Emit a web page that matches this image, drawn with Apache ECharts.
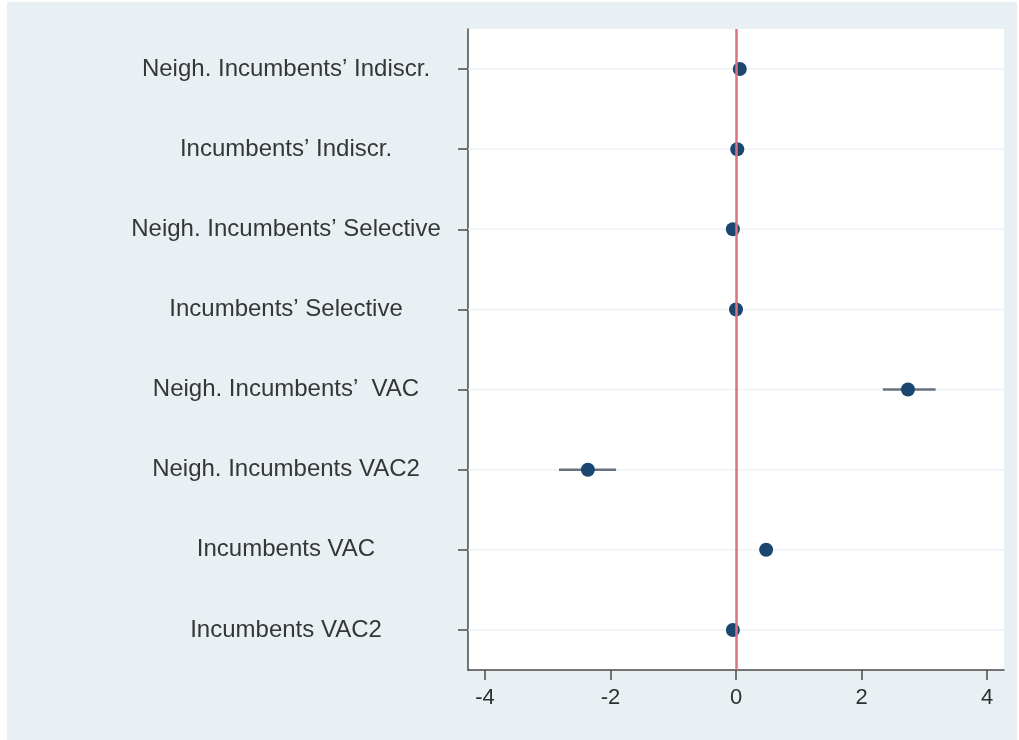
<!DOCTYPE html>
<html>
<head>
<meta charset="utf-8">
<script src="https://cdn.jsdelivr.net/npm/echarts@6/dist/echarts.min.js"></script>
<style>
  html, body { margin: 0; padding: 0; background: #ffffff; }
  #chart { width: 1019px; height: 740px; }
</style>
</head>
<body>
<div id="chart"></div>
<script>
// Coefficient estimates with confidence intervals, one row per regressor
const categories = [
  "Neigh. Incumbents’ Indiscr.",
  "Incumbents’ Indiscr.",
  "Neigh. Incumbents’ Selective",
  "Incumbents’ Selective",
  "Neigh. Incumbents’  VAC",
  "Neigh. Incumbents VAC2",
  "Incumbents VAC",
  "Incumbents VAC2"
];
const estimates = [0.06, 0.02, -0.05, 0.0, 2.74, -2.36, 0.48, -0.05];
const ciLow     = [0.02, -0.02, -0.09, -0.04, 2.34, -2.82, 0.44, -0.09];
const ciHigh    = [0.10, 0.06, -0.01, 0.04, 3.18, -1.91, 0.52, -0.01];
const xTicks    = [-4, -2, 0, 2, 4];

const chart = echarts.init(document.getElementById('chart'));

const pointData = estimates.map((v, i) => [v, i]);
const ciData = ciLow.map((lo, i) => [lo, ciHigh[i], i]);
const rowData = categories.map((c, i) => [i]);

const axisColor = '#4a4a4a';
const font = 'Liberation Sans, Arial, Helvetica, sans-serif';

chart.setOption({
  animation: false,
  backgroundColor: '#ffffff',
  graphic: [{
    type: 'rect',
    z: -10,
    shape: { x: 7, y: 2, width: 1010, height: 738 },
    style: { fill: '#e8f0f3' }
  }],
  grid: {
    left: 468, right: 15, top: 29, bottom: 70,
    show: true, backgroundColor: '#ffffff', borderWidth: 0
  },
  xAxis: {
    type: 'value',
    min: -4.27, max: 4.27,
    splitLine: { show: false },
    axisLine: { show: true, onZero: false, lineStyle: { color: axisColor, width: 1.5 } },
    axisTick: { show: true, customValues: xTicks, length: 10, lineStyle: { color: axisColor, width: 1.5 } },
    axisLabel: {
      customValues: xTicks, margin: 17,
      fontFamily: font, fontSize: 22, color: '#2f2f2f'
    }
  },
  yAxis: {
    type: 'category',
    data: categories,
    inverse: true,
    boundaryGap: true,
    axisLine: { show: true, onZero: false, lineStyle: { color: axisColor, width: 1.5 } },
    axisTick: { show: true, alignWithLabel: true, length: 10, lineStyle: { color: axisColor, width: 1.5 } },
    splitLine: { show: false },
    axisLabel: {
      align: 'center', margin: 182,
      fontFamily: font, fontSize: 24, color: '#363636',
      padding: [6, 0, 0, 0]
    }
  },
  series: [
    {
      // faint horizontal guide at each row
      type: 'custom',
      silent: true,
      z: 1,
      data: rowData,
      encode: { y: 0 },
      renderItem: function (params, api) {
        const y = api.coord([0, api.value(0)])[1];
        const cs = params.coordSys;
        return {
          type: 'line',
          shape: { x1: cs.x, y1: y, x2: cs.x + cs.width, y2: y },
          style: { stroke: '#eef2f4', lineWidth: 1.5 }
        };
      }
    },
    {
      // confidence interval whiskers
      type: 'custom',
      silent: true,
      z: 3,
      data: ciData,
      encode: { x: [0, 1], y: 2 },
      renderItem: function (params, api) {
        const a = api.coord([api.value(0), api.value(2)]);
        const b = api.coord([api.value(1), api.value(2)]);
        return {
          type: 'line',
          shape: { x1: a[0], y1: a[1], x2: b[0], y2: b[1] },
          style: { stroke: '#66737f', lineWidth: 2.5 }
        };
      }
    },
    {
      type: 'scatter',
      z: 4,
      data: pointData,
      symbol: 'circle',
      symbolSize: 14,
      itemStyle: { color: '#1b4670', opacity: 1 },
      markLine: {
        silent: true,
        symbol: 'none',
        label: { show: false },
        lineStyle: { color: '#d9737f', width: 2.5, type: 'solid' },
        data: [{ xAxis: 0 }]
      }
    }
  ]
});
</script>
</body>
</html>
